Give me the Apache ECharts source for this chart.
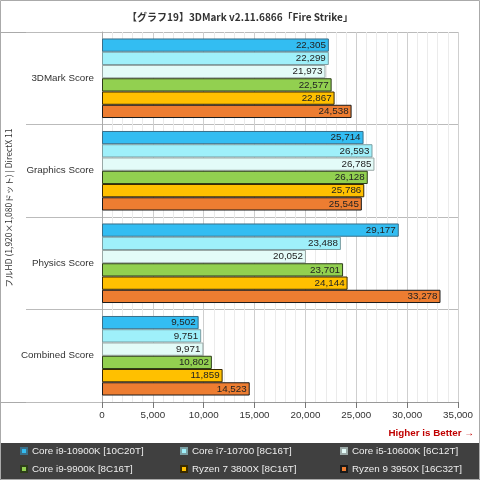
<!DOCTYPE html>
<html><head><meta charset="utf-8">
<script src="https://cdn.jsdelivr.net/npm/echarts@6/dist/echarts.min.js"></script>
<style>html,body{margin:0;padding:0;background:#fff}#c{width:480px;height:480px}</style>
</head><body><div id="c"></div>
<script>
const categories = ['3DMark Score', 'Graphics Score', 'Physics Score', 'Combined Score'];
const cpuNames = ['Core i9-10900K [10C20T]', 'Core i7-10700 [8C16T]', 'Core i5-10600K [6C12T]', 'Core i9-9900K [8C16T]', 'Ryzen 7 3800X [8C16T]', 'Ryzen 9 3950X [16C32T]'];
const i9_10900K = [22305, 25714, 29177, 9502];
const i7_10700 = [22299, 26593, 23488, 9751];
const i5_10600K = [21973, 26785, 20052, 9971];
const i9_9900K = [22577, 26128, 23701, 10802];
const r7_3800X = [22867, 25786, 24144, 11859];
const r9_3950X = [24538, 25545, 33278, 14523];
const seriesValues = [i9_10900K, i7_10700, i5_10600K, i9_9900K, r7_3800X, r9_3950X];
const colors = ['#33bdf2', '#9ff0fa', '#e3fbf8', '#92d050', '#ffc000', '#ed7d31'];
const borders = ['#3a6f88', '#7a9ea2', '#9aa8a6', '#2d3d1a', '#3a2a00', '#1a1a1a'];

const FONT = 'Liberation Sans';
const chart = echarts.init(document.getElementById('c'));
const series = seriesValues.map((vals, i) => ({
  name: cpuNames[i], type: 'bar', data: vals,
  barGap: '0%', barCategoryGap: '14%',
  itemStyle: { color: colors[i], borderColor: borders[i], borderWidth: 1 },
  label: { show: true, position: 'insideRight', distance: 3, color: '#222', fontFamily: FONT, fontSize: 9.8,
    formatter: p => p.value.toLocaleString('en-US') },
  emphasis: { disabled: true }, animation: false
}));
const legendLeft = [20, 180, 340];
const legendTop = [446, 464];
const legends = cpuNames.map((n, i) => ({
  orient: 'horizontal', left: legendLeft[i % 3], top: legendTop[Math.floor(i / 3)], padding: 0,
  itemWidth: 6, itemHeight: 6, itemTextGap: 3, icon: 'rect', data: [n], selectedMode: false,
  textStyle: { color: '#eeeeee', fontFamily: FONT, fontSize: 9.8 }
}));
chart.setOption({
  animation: false,
  color: colors,
  title: { text: '【グラフ19】3DMark v2.11.6866「Fire Strike」', left: 'center', top: 7,
    textStyle: { fontFamily: 'Noto Sans CJK JP', fontSize: 10, fontWeight: 'bold', color: '#333' } },
  grid: { left: 102, right: 22, top: 32, bottom: 78, outerBoundsMode: 'none', containLabel: false },
  xAxis: { type: 'value', min: 0, max: 35000, interval: 5000,
    axisLine: { show: true, lineStyle: { color: '#999' } },
    axisTick: { show: true, length: 6, lineStyle: { color: '#777' } },
    axisLabel: { color: '#333', fontFamily: FONT, fontSize: 9.8, margin: 8, formatter: v => v.toLocaleString('en-US') },
    splitLine: { show: true, lineStyle: { color: '#cfcfcf' } },
    minorTick: { show: false, splitNumber: 5 },
    minorSplitLine: { show: true, lineStyle: { color: '#ebebeb' } } },
  yAxis: { type: 'category', data: categories, inverse: true,
    axisLine: { show: true, lineStyle: { color: '#aaa' } },
    axisTick: { show: true, length: 76, lineStyle: { color: '#bbb' } },
    axisLabel: { color: '#333', fontFamily: FONT, fontSize: 9.8, margin: 8 },
    splitLine: { show: true, lineStyle: { color: '#bbb' } } },
  legend: legends,
  graphic: [
    { type: 'rect', shape: { x: 0, y: 443, width: 480, height: 37 }, style: { fill: '#404040' }, z: -1 },
    { type: 'rect', shape: { x: 0.5, y: 0.5, width: 479, height: 479 }, style: { fill: null, stroke: '#aaa' }, z: 10 },
    { type: 'line', shape: { x1: 0, y1: 32.5, x2: 458, y2: 32.5 }, style: { stroke: '#aaa' } },
    { type: 'line', shape: { x1: 0, y1: 402.5, x2: 458, y2: 402.5 }, style: { stroke: '#aaa' } },
    { type: 'line', shape: { x1: 458.5, y1: 32, x2: 458.5, y2: 402 }, style: { stroke: '#999' } },
    { type: 'text', x: 9, y: 208, rotation: Math.PI / 2,
      style: { text: 'フルHD (1,920×1,080ドット) | DirectX 11', fill: '#333', font: '8.5px "Noto Sans CJK JP"', align: 'center', verticalAlign: 'middle' } },
    { type: 'text', right: 6, top: 428, style: { text: 'Higher is Better →', fill: '#c00000', font: 'bold 9.8px "Liberation Sans"' } }
  ],
  series: series
});
</script></body></html>
